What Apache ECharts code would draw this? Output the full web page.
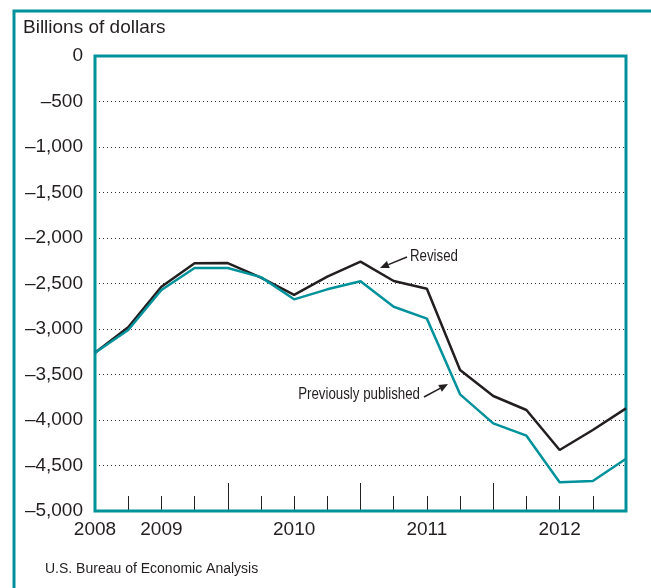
<!DOCTYPE html>
<html>
<head>
<meta charset="utf-8">
<script src="https://cdn.jsdelivr.net/npm/echarts@6/dist/echarts.min.js"></script>
<style>
html,body{margin:0;padding:0;background:#fff;}
#chart{width:651px;height:588px;}
</style>
</head>
<body>
<div id="chart"></div>
<script>
// Quarters (end of quarter), 2008 Q4 – 2012 Q4
var categories = ['2008Q4','2009Q1','2009Q2','2009Q3','2009Q4','2010Q1','2010Q2','2010Q3','2010Q4',
  '2011Q1','2011Q2','2011Q3','2011Q4','2012Q1','2012Q2','2012Q3','2012Q4'];
// Year labels shown at certain category positions
var yearLabels = {0:'2008', 2:'2009', 6:'2010', 10:'2011', 14:'2012'};
var revised = [-3260,-2980,-2535,-2278,-2275,-2436,-2626,-2425,-2260,-2473,-2557,-3451,-3736,-3890,-4330,-4110,-3872];
var previouslyPublished = [-3260,-3011,-2571,-2330,-2330,-2430,-2674,-2564,-2476,-2755,-2886,-3718,-4037,-4172,-4685,-4670,-4425];
var yMin = -5000, yMax = 0, yStep = 500;

var TEAL = '#00929b';
var INK = '#231f20';
var FONT = '"Liberation Sans", Arial, Helvetica, sans-serif';

function fmt(v){
  if (v === 0) return '0';
  var a = Math.abs(v).toString().replace(/\B(?=(\d{3})+(?!\d))/g, ',');
  return (v < 0 ? '\u2013' : '') + a;
}

function arrow(x1, y1, x2, y2) {
  var dx = x2 - x1, dy = y2 - y1, L = Math.sqrt(dx*dx + dy*dy);
  var ux = dx / L, uy = dy / L, hl = 9, hw = 3.8;
  var bx = x2 - hl*ux, by = y2 - hl*uy;
  var px = -uy, py = ux;
  return [
    {type:'line', shape:{x1:x1, y1:y1, x2:bx, y2:by}, style:{stroke:INK, lineWidth:1.5}, z:50},
    {type:'polygon', shape:{points:[[x2,y2],[bx+hw*px, by+hw*py],[bx-hw*px, by-hw*py]]}, style:{fill:INK}, z:50}
  ];
}

var chart = echarts.init(document.getElementById('chart'), null, {renderer:'canvas'});
var graphics = [
  {type:'rect', shape:{x:14, y:11, width:800, height:800}, style:{fill:'none', stroke:TEAL, lineWidth:3}, z:0, silent:true},
  {type:'text', left:23, top:18, style:{text:'Billions of dollars', font:'19px ' + FONT, fill:INK}, z:10},
  {type:'text', left:45, top:562, style:{text:'U.S. Bureau of Economic Analysis', font:'14px ' + FONT, fill:INK}, z:10},
  {type:'text', x:410, y:257, scaleX:0.83, originX:0, originY:0, style:{text:'Revised', font:'16px ' + FONT, fill:INK, textVerticalAlign:'middle', textAlign:'left'}, z:50},
  {type:'text', x:420, y:395, scaleX:0.83, originX:0, originY:0, style:{text:'Previously published', font:'16px ' + FONT, fill:INK, textVerticalAlign:'middle', textAlign:'right'}, z:50}
].concat(arrow(407, 257, 380, 268)).concat(arrow(424, 397, 448, 384));

var option = {
  animation: false,
  backgroundColor: '#fff',
  grid: {left:95, right:25, top:56, bottom:77, show:true, borderColor:TEAL, borderWidth:3, z:5},
  xAxis: [{
    type:'category', data:categories, boundaryGap:false, position:'bottom',
    axisLine:{show:false, onZero:false},
    axisTick:{show:true, inside:true, length:15, lineStyle:{color:INK, width:1},
      interval:function(i){ return i > 0 && i < categories.length - 1; }},
    axisLabel:{show:true, margin:9, fontSize:19, fontFamily:FONT, color:INK,
      interval:function(i){ return yearLabels[i] !== undefined; },
      formatter:function(v, i){ return yearLabels[i] || ''; }},
    splitLine:{show:false}
  },{
    type:'category', data:categories, boundaryGap:false, position:'bottom', offset:0,
    axisLine:{show:false, onZero:false},
    axisTick:{show:true, inside:true, length:28, lineStyle:{color:INK, width:1},
      interval:function(i){ return i > 0 && i < categories.length - 1 && i % 4 === 0; }},
    axisLabel:{show:false},
    splitLine:{show:false}
  }],
  yAxis: {
    type:'value', min:yMin, max:yMax, interval:yStep,
    axisLine:{show:false}, axisTick:{show:false},
    axisLabel:{margin:12, fontSize:19, fontFamily:FONT, color:INK, formatter:fmt},
    splitLine:{show:true, showMinLine:false, showMaxLine:false, lineStyle:{type:[1,3], color:'#333', width:1}}
  },
  series: [
    {name:'Revised', type:'line', data:revised, symbol:'none', z:10,
      lineStyle:{color:INK, width:2.5}},
    {name:'Previously published', type:'line', data:previouslyPublished, symbol:'none', z:11,
      lineStyle:{color:TEAL, width:2.5}}
  ],
  graphic: graphics
};
chart.setOption(option);
</script>
</body>
</html>
